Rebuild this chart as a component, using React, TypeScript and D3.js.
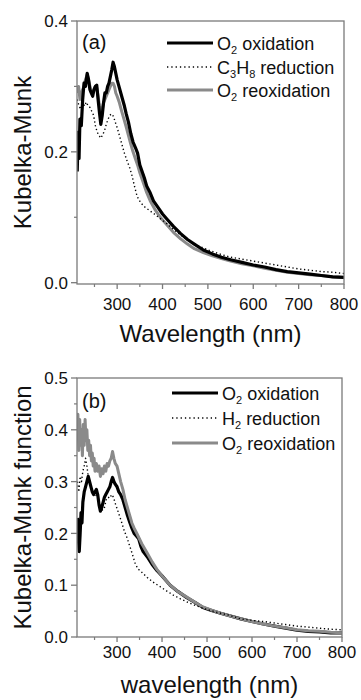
import React from "react";
import * as d3 from "d3";

type Pt = [number, number];

// ---------- Panel (a) data: [wavelength nm, Kubelka-Munk] ----------
const aO2Oxidation: Pt[] = [
  [212, 0.17], [214, 0.23], [216, 0.19], [218, 0.25], [221, 0.24], [224, 0.28], [227, 0.305], [230, 0.3],
  [234, 0.32], [237, 0.31], [240, 0.295], [243, 0.29], [246, 0.285], [249, 0.295], [252, 0.3], [255, 0.302],
  [258, 0.28], [261, 0.26], [264, 0.242], [267, 0.255], [270, 0.275], [273, 0.29], [276, 0.29], [279, 0.3],
  [282, 0.305], [285, 0.315], [288, 0.325], [291, 0.337], [294, 0.33], [297, 0.32], [300, 0.31], [304, 0.3],
  [308, 0.29], [312, 0.28], [316, 0.27], [320, 0.258], [325, 0.245], [330, 0.228], [335, 0.215], [340, 0.207],
  [345, 0.198], [350, 0.18], [355, 0.17], [360, 0.16], [365, 0.148], [373, 0.137], [380, 0.125], [390, 0.115],
  [400, 0.105], [410, 0.097], [424, 0.086], [440, 0.075], [455, 0.066], [470, 0.059], [490, 0.05], [510, 0.044],
  [530, 0.039], [550, 0.035], [575, 0.031], [600, 0.027], [625, 0.024], [650, 0.02], [675, 0.017], [700, 0.015],
  [725, 0.013], [750, 0.011], [775, 0.009], [800, 0.008],
];

const aC3H8Reduction: Pt[] = [
  [212, 0.28], [216, 0.27], [220, 0.265], [224, 0.275], [228, 0.27], [232, 0.276], [236, 0.27], [240, 0.268],
  [244, 0.262], [248, 0.256], [252, 0.24], [256, 0.23], [260, 0.225], [264, 0.221], [268, 0.226], [272, 0.232],
  [276, 0.242], [280, 0.25], [284, 0.256], [288, 0.258], [292, 0.254], [296, 0.245], [300, 0.237], [305, 0.225],
  [311, 0.21], [316, 0.198], [322, 0.186], [328, 0.175], [333, 0.163], [338, 0.148], [344, 0.132], [352, 0.122],
  [362, 0.115], [372, 0.11], [382, 0.105], [395, 0.098], [410, 0.09], [425, 0.081], [440, 0.073], [460, 0.063],
  [480, 0.056], [500, 0.05], [525, 0.044], [550, 0.039], [575, 0.036], [600, 0.033], [625, 0.03], [650, 0.027],
  [675, 0.024], [700, 0.021], [725, 0.019], [750, 0.017], [775, 0.016], [800, 0.014],
];

const aO2Reoxidation: Pt[] = [
  [212, 0.29], [215, 0.3], [218, 0.28], [221, 0.29], [224, 0.295], [227, 0.3], [230, 0.31], [234, 0.318],
  [237, 0.31], [240, 0.3], [243, 0.29], [246, 0.29], [249, 0.295], [252, 0.3], [255, 0.298], [258, 0.285],
  [261, 0.27], [264, 0.262], [267, 0.265], [270, 0.275], [273, 0.28], [276, 0.285], [279, 0.29], [282, 0.295],
  [285, 0.3], [288, 0.305], [291, 0.305], [294, 0.3], [297, 0.29], [300, 0.285], [305, 0.275], [310, 0.262],
  [315, 0.25], [320, 0.238], [325, 0.225], [330, 0.212], [335, 0.2], [340, 0.19], [345, 0.18], [350, 0.168],
  [355, 0.158], [360, 0.148], [365, 0.138], [373, 0.125], [385, 0.11], [395, 0.1], [410, 0.088], [424, 0.077],
  [440, 0.067], [455, 0.059], [470, 0.052], [490, 0.046], [510, 0.041], [530, 0.037], [550, 0.033], [575, 0.029],
  [600, 0.026], [625, 0.022], [650, 0.019], [675, 0.016], [700, 0.014], [725, 0.012], [750, 0.011], [775, 0.009],
  [800, 0.008],
];

// ---------- Panel (b) data ----------
const bO2Oxidation: Pt[] = [
  [212, 0.23], [214, 0.19], [216, 0.165], [218, 0.2], [220, 0.24], [222, 0.22], [224, 0.26], [227, 0.28],
  [230, 0.29], [233, 0.3], [236, 0.31], [239, 0.3], [242, 0.29], [245, 0.28], [248, 0.275], [251, 0.28],
  [254, 0.285], [257, 0.275], [260, 0.255], [263, 0.243], [266, 0.25], [269, 0.26], [272, 0.27], [275, 0.275],
  [278, 0.28], [281, 0.285], [284, 0.29], [287, 0.3], [290, 0.308], [293, 0.3], [296, 0.295], [300, 0.29],
  [304, 0.28], [308, 0.275], [313, 0.265], [318, 0.25], [323, 0.235], [328, 0.222], [333, 0.21], [338, 0.2],
  [343, 0.195], [348, 0.19], [353, 0.175], [358, 0.165], [367, 0.155], [378, 0.14], [389, 0.128], [400, 0.118],
  [418, 0.1], [435, 0.088], [455, 0.076], [475, 0.066], [491, 0.057], [510, 0.051], [530, 0.046], [550, 0.041],
  [575, 0.035], [600, 0.03], [625, 0.025], [650, 0.021], [675, 0.017], [700, 0.013], [725, 0.011], [750, 0.01],
  [775, 0.008], [800, 0.008],
];

const bH2Reduction: Pt[] = [
  [212, 0.3], [215, 0.28], [218, 0.31], [221, 0.3], [224, 0.32], [227, 0.33], [230, 0.345], [233, 0.33],
  [236, 0.31], [240, 0.295], [244, 0.285], [248, 0.28], [252, 0.275], [256, 0.27], [260, 0.26], [264, 0.25],
  [268, 0.245], [272, 0.25], [276, 0.265], [280, 0.27], [284, 0.268], [288, 0.275], [292, 0.27], [296, 0.258],
  [300, 0.248], [305, 0.235], [310, 0.222], [316, 0.205], [322, 0.192], [328, 0.176], [334, 0.16], [340, 0.143],
  [346, 0.132], [355, 0.125], [367, 0.115], [380, 0.106], [396, 0.097], [410, 0.089], [425, 0.081], [440, 0.074],
  [460, 0.066], [480, 0.059], [500, 0.053], [525, 0.047], [550, 0.042], [575, 0.035], [600, 0.032], [625, 0.03],
  [650, 0.027], [675, 0.024], [700, 0.021], [725, 0.019], [750, 0.017], [775, 0.015], [800, 0.014],
];

const bO2Reoxidation: Pt[] = [
  [212, 0.4], [213, 0.43], [215, 0.36], [217, 0.42], [219, 0.37], [221, 0.4], [223, 0.35], [225, 0.41],
  [227, 0.37], [229, 0.42], [231, 0.38], [233, 0.4], [235, 0.36], [237, 0.38], [239, 0.35], [241, 0.37],
  [243, 0.34], [245, 0.355], [247, 0.33], [249, 0.345], [251, 0.32], [254, 0.335], [257, 0.32], [260, 0.33],
  [263, 0.31], [266, 0.325], [269, 0.315], [272, 0.33], [275, 0.32], [278, 0.335], [281, 0.33], [284, 0.34],
  [287, 0.345], [290, 0.358], [293, 0.345], [296, 0.335], [300, 0.33], [304, 0.315], [308, 0.3], [313, 0.285],
  [318, 0.265], [323, 0.25], [328, 0.235], [333, 0.22], [338, 0.21], [344, 0.2], [355, 0.18], [367, 0.162],
  [378, 0.145], [389, 0.13], [400, 0.118], [418, 0.1], [435, 0.088], [455, 0.077], [475, 0.066], [491, 0.058],
  [510, 0.052], [530, 0.046], [550, 0.041], [567, 0.037], [590, 0.032], [610, 0.028], [625, 0.025], [650, 0.021],
  [675, 0.018], [700, 0.014], [725, 0.012], [750, 0.011], [775, 0.009], [800, 0.008],
];

// ---------- ticks ----------
const xMajorTicks = [300, 400, 500, 600, 700, 800];
const xMinorTicks = [250, 350, 450, 550, 650, 750];
const aYMajorTicks = [0.0, 0.2, 0.4];
const aYMinorTicks = [0.1, 0.3];
const bYMajorTicks = [0.0, 0.1, 0.2, 0.3, 0.4, 0.5];
const bYMinorTicks = [0.05, 0.15, 0.25, 0.35, 0.45];

const FONT = "'Liberation Sans', Arial, Helvetica, sans-serif";
const GRAY = "#8a8a8a";
const FRAME = "#7a7a7a";

type Series = { data: Pt[]; color: string; width: number; dash?: string };

type LegendItem = {
  color: string;
  width: number;
  dash?: string;
  parts: { t: string; sub?: boolean }[];
};

type PanelProps = {
  id: string;
  x0: number;
  x1: number;
  yTop: number;
  yBottom: number;
  xDomain: [number, number];
  yDomain: [number, number];
  yMajor: number[];
  yMinor: number[];
  series: Series[];
  label: string;
  labelX: number;
  labelY: number;
  legend: LegendItem[];
  legendX: number;
  legendRows: number[];
  xTitle: string;
  xTitleY: number;
  xTickLabelDy: number;
  yTitle: string;
};

function Panel(p: PanelProps) {
  const x = d3.scaleLinear().domain(p.xDomain).range([p.x0, p.x1]);
  const y = d3.scaleLinear().domain(p.yDomain).range([p.yBottom, p.yTop]);
  const line = d3
    .line<Pt>()
    .x((d) => x(d[0]))
    .y((d) => y(d[1]));
  const clipId = "clip-" + p.id;
  const cy = (p.yTop + p.yBottom) / 2;
  const cx = (p.x0 + p.x1) / 2;
  return (
    <g>
      <defs>
        <clipPath id={clipId}>
          <rect x={p.x0} y={p.yTop} width={p.x1 - p.x0} height={p.yBottom - p.yTop} />
        </clipPath>
      </defs>
      <g clipPath={`url(#${clipId})`}>
        {p.series.map((s, i) => (
          <path
            key={i}
            d={line(s.data) || ""}
            fill="none"
            stroke={s.color}
            strokeWidth={s.width}
            strokeDasharray={s.dash}
            strokeLinejoin="round"
          />
        ))}
      </g>
      <rect
        x={p.x0}
        y={p.yTop}
        width={p.x1 - p.x0}
        height={p.yBottom - p.yTop}
        fill="none"
        stroke={FRAME}
        strokeWidth={1.3}
      />
      {/* x ticks */}
      {xMajorTicks.map((t) => (
        <g key={"xm" + t}>
          <line x1={x(t)} x2={x(t)} y1={p.yBottom} y2={p.yBottom + 5} stroke={FRAME} strokeWidth={1.3} />
          <text
            x={x(t)}
            y={p.yBottom + p.xTickLabelDy}
            textAnchor="middle"
            fontSize={17}
            fontFamily={FONT}
            fill="#111"
          >
            {t}
          </text>
        </g>
      ))}
      {xMinorTicks.map((t) => (
        <line key={"xn" + t} x1={x(t)} x2={x(t)} y1={p.yBottom} y2={p.yBottom + 3} stroke={FRAME} strokeWidth={1.2} />
      ))}
      {/* y ticks */}
      {p.yMajor.map((t) => (
        <g key={"ym" + t}>
          <line x1={p.x0 - 6} x2={p.x0} y1={y(t)} y2={y(t)} stroke={FRAME} strokeWidth={1.3} />
          <text
            x={p.x0 - 9}
            y={y(t)}
            dy="0.36em"
            textAnchor="end"
            fontSize={17}
            fontFamily={FONT}
            fill="#111"
          >
            {t.toFixed(1)}
          </text>
        </g>
      ))}
      {p.yMinor.map((t) => (
        <line key={"yn" + t} x1={p.x0 - 3} x2={p.x0} y1={y(t)} y2={y(t)} stroke={FRAME} strokeWidth={1.2} />
      ))}
      {/* panel label */}
      <text x={p.labelX} y={p.labelY} fontSize={20} fontFamily={FONT} fill="#111">
        {p.label}
      </text>
      {/* legend */}
      {p.legend.map((item, i) => {
        const ry = p.legendRows[i];
        return (
          <g key={"lg" + i}>
            <line
              x1={p.legendX}
              x2={p.legendX + 46}
              y1={ry}
              y2={ry}
              stroke={item.color}
              strokeWidth={item.width}
              strokeDasharray={item.dash}
            />
            <text x={p.legendX + 50} y={ry + 6.5} fontSize={18} fontFamily={FONT} fill="#111">
              {item.parts.map((part, j) =>
                part.sub ? (
                  <tspan key={j} fontSize={11} dy={4}>
                    {part.t}
                  </tspan>
                ) : (
                  <tspan key={j} dy={j > 0 && item.parts[j - 1].sub ? -4 : 0}>
                    {part.t}
                  </tspan>
                )
              )}
            </text>
          </g>
        );
      })}
      {/* axis titles */}
      <text x={cx} y={p.xTitleY} textAnchor="middle" fontSize={24} fontFamily={FONT} fill="#111">
        {p.xTitle}
      </text>
      <text
        transform={`translate(31, ${cy}) rotate(-90)`}
        textAnchor="middle"
        fontSize={24}
        fontFamily={FONT}
        fill="#111"
      >
        {p.yTitle}
      </text>
    </g>
  );
}

export default function App() {
  const legendA: LegendItem[] = [
    { color: "#000", width: 3.2, parts: [{ t: "O" }, { t: "2", sub: true }, { t: " oxidation" }] },
    {
      color: "#000",
      width: 1.3,
      dash: "1.3,3",
      parts: [{ t: "C" }, { t: "3", sub: true }, { t: "H" }, { t: "8", sub: true }, { t: " reduction" }],
    },
    { color: GRAY, width: 3, parts: [{ t: "O" }, { t: "2", sub: true }, { t: " reoxidation" }] },
  ];
  const legendB: LegendItem[] = [
    { color: "#000", width: 3.2, parts: [{ t: "O" }, { t: "2", sub: true }, { t: " oxidation" }] },
    {
      color: "#000",
      width: 1.3,
      dash: "1.3,3",
      parts: [{ t: "H" }, { t: "2", sub: true }, { t: " reduction" }],
    },
    { color: GRAY, width: 3, parts: [{ t: "O" }, { t: "2", sub: true }, { t: " reoxidation" }] },
  ];
  return (
    <svg
      width={361}
      height={700}
      style={{ position: "absolute", left: 0, top: 0, background: "#fff" }}
    >
      <Panel
        id="a"
        x0={77}
        x1={344}
        yTop={21}
        yBottom={284}
        xDomain={[211.5, 800]}
        yDomain={[-0.002, 0.4]}
        yMajor={aYMajorTicks}
        yMinor={aYMinorTicks}
        series={[
          { data: aO2Reoxidation, color: GRAY, width: 3 },
          { data: aO2Oxidation, color: "#000", width: 3.2 },
          { data: aC3H8Reduction, color: "#000", width: 1.4, dash: "1.3,2.6" },
        ]}
        label="(a)"
        labelX={82}
        labelY={49}
        legend={legendA}
        legendX={167}
        legendRows={[43, 67, 90]}
        xTitle="Wavelength (nm)"
        xTitleY={342}
        xTickLabelDy={26}
        yTitle="Kubelka-Munk"
      />
      <Panel
        id="b"
        x0={77}
        x1={342}
        yTop={378}
        yBottom={637}
        xDomain={[211, 800]}
        yDomain={[0, 0.5]}
        yMajor={bYMajorTicks}
        yMinor={bYMinorTicks}
        series={[
          { data: bO2Oxidation, color: "#000", width: 3.2 },
          { data: bO2Reoxidation, color: GRAY, width: 3 },
          { data: bH2Reduction, color: "#000", width: 1.4, dash: "1.3,2.6" },
        ]}
        label="(b)"
        labelX={82}
        labelY={408}
        legend={legendB}
        legendX={172}
        legendRows={[393, 418, 443]}
        xTitle="wavelength (nm)"
        xTitleY={693}
        xTickLabelDy={21}
        yTitle="Kubelka-Munk function"
      />
    </svg>
  );
}
